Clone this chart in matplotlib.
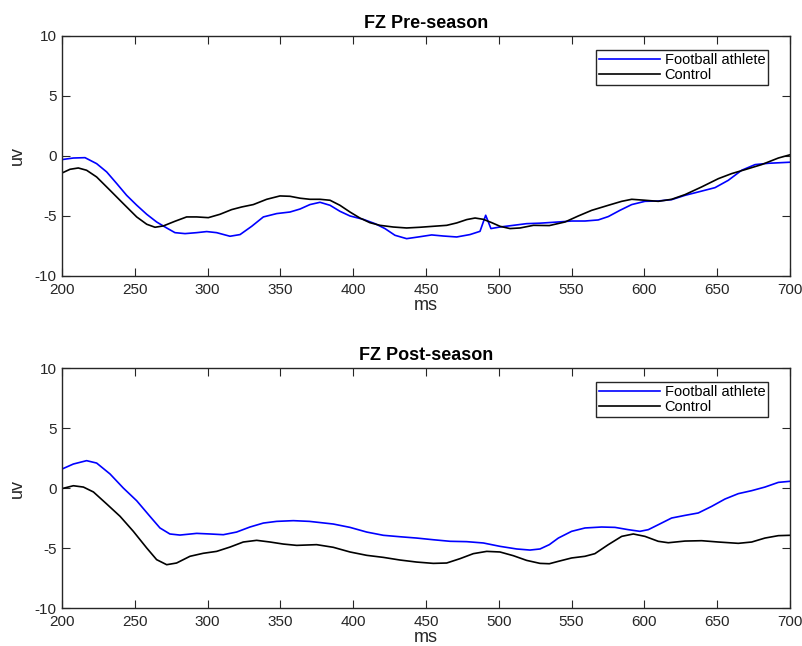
import matplotlib
matplotlib.use('Agg')
import matplotlib.pyplot as plt

plt.rcParams['font.family'] = ['Liberation Sans', 'DejaVu Sans']
plt.rcParams['axes.unicode_minus'] = False

# Grand-average ERP at FZ, pre-season
pre_ms_fb = [200, 207.8, 215.8, 223.8, 230.7, 237.6, 244.4, 251.3, 258.2, 265, 271.9, 277.6, 284.5,
             292.5, 299.4, 306.2, 315.4, 322.3, 330.3, 338.3, 347.5, 356.6, 363.5, 370.3, 377.2,
             384.1, 390.9, 397.8, 406.9, 415, 421.8, 428.7, 436.7, 444.7, 453.9, 461.9, 471.1,
             480.2, 487.1, 491, 494.6, 500.8, 510, 519.1, 528.3, 540.9, 550, 559.2, 568.3, 575.2,
             583.2, 591.3, 600.4, 609.5, 618.7, 627.9, 637, 648.5, 657.6, 666.8, 676, 685.1, 700]
pre_fb = [-0.3, -0.17, -0.14, -0.64, -1.33, -2.3, -3.28, -4.1, -4.86, -5.5, -6.0, -6.39, -6.47,
          -6.39, -6.3, -6.39, -6.69, -6.55, -5.86, -5.08, -4.8, -4.67, -4.42, -4.05, -3.86,
          -4.11, -4.61, -5.0, -5.28, -5.64, -6.05, -6.61, -6.89, -6.75, -6.58, -6.67, -6.75,
          -6.55, -6.28, -4.94, -6.05, -5.92, -5.78, -5.64, -5.6, -5.5, -5.42, -5.42, -5.33, -5.05,
          -4.53, -4.05, -3.78, -3.75, -3.64, -3.28, -3.0, -2.64, -2.03, -1.19, -0.72, -0.61, -0.52]
pre_ms_ctl = [200, 205.5, 211.2, 216.9, 223.8, 233, 242.1, 251.3, 258.2, 263.9, 269.6, 277.6, 285.6,
              292.5, 300.5, 308.5, 316.5, 323.4, 331.4, 340.6, 349.7, 356.6, 363.5, 370.3, 377.2,
              384.1, 390.9, 397.8, 404.6, 411.5, 418.4, 427.5, 436.7, 445.9, 455, 464.2, 471.1,
              478, 483.7, 489.4, 495.2, 500.8, 507.7, 514.6, 523.8, 534.7, 545.5, 554.6, 563.8,
              575.2, 584.4, 591.3, 600.4, 609.5, 618.7, 627.9, 639.3, 650.8, 659.9, 669.1, 680.5,
              692, 700]
pre_ctl = [-1.42, -1.11, -1.0, -1.19, -1.75, -2.86, -3.97, -5.08, -5.69, -5.94, -5.83, -5.44, -5.08,
           -5.08, -5.14, -4.86, -4.47, -4.25, -4.05, -3.61, -3.33, -3.36, -3.52, -3.61, -3.61,
           -3.69, -4.11, -4.67, -5.17, -5.56, -5.78, -5.92, -6.0, -5.94, -5.86, -5.78, -5.58,
           -5.3, -5.17, -5.28, -5.56, -5.86, -6.05, -6.0, -5.78, -5.8, -5.5, -5.0, -4.53,
           -4.11, -3.78, -3.61, -3.69, -3.78, -3.61, -3.22, -2.58, -1.89, -1.47, -1.14, -0.72,
           -0.17, 0.1]

# Grand-average ERP at FZ, post-season
post_ms_fb = [200, 207.8, 216.9, 223.8, 233, 242.1, 251.3, 260.4, 267.3, 274.1, 281, 292.5, 301.6,
              310.8, 319.9, 329.1, 338.3, 347.4, 358.9, 369.9, 386.3, 397.8, 409.3, 420.7, 432.1,
              443.6, 455, 466.5, 478, 489.4, 500.8, 512.3, 521.4, 528.3, 534.7, 540.9, 550, 559.2,
              570.6, 579.8, 588.9, 596.9, 602.7, 609.5, 618.7, 627.9, 637, 646.2, 655.3, 664.5,
              673.7, 682.8, 692, 700]
post_fb = [1.58, 2.0, 2.28, 2.08, 1.17, 0.0, -1.06, -2.36, -3.33, -3.83, -3.92, -3.78, -3.83,
           -3.89, -3.67, -3.25, -2.92, -2.78, -2.72, -2.78, -3.0, -3.28, -3.67, -3.94, -4.06,
           -4.17, -4.31, -4.44, -4.47, -4.58, -4.86, -5.08, -5.17, -5.08, -4.72, -4.17, -3.61, -3.33,
           -3.25, -3.28, -3.47, -3.61, -3.47, -3.06, -2.5, -2.28, -2.08, -1.53, -0.92, -0.47,
           -0.22, 0.08, 0.47, 0.56]
post_ms_ctl = [200, 207.8, 214.7, 221.6, 230.7, 239.9, 249, 258.2, 265, 271.9, 278.7, 287.9, 297,
               306.2, 315.4, 324.5, 333.7, 342.9, 352, 361.2, 374.9, 386.3, 397.8, 409.3, 420.7,
               432.1, 443.6, 455, 464.2, 473.3, 482.5, 491.7, 500.8, 510, 519.1, 528.3, 534.7,
               540.9, 550, 559.2, 566, 575.2, 584.4, 592.4, 600.4, 609.5, 616.4, 627.9, 639.3,
               650.8, 664.5, 673.7, 682.8, 692, 700]
post_ctl = [-0.05, 0.19, 0.08, -0.33, -1.33, -2.36, -3.61, -5.0, -5.97, -6.39, -6.25, -5.69, -5.44,
            -5.28, -4.92, -4.5, -4.36, -4.5, -4.67, -4.78, -4.72, -4.94, -5.33, -5.61, -5.78,
            -6.0, -6.17, -6.28, -6.25, -5.89, -5.47, -5.28, -5.33, -5.64, -6.03, -6.28, -6.31,
            -6.11, -5.83, -5.69, -5.47, -4.72, -4.03, -3.83, -4.03, -4.44, -4.56, -4.42, -4.39,
            -4.5, -4.61, -4.5, -4.17, -3.97, -3.94]

xticks = [200, 250, 300, 350, 400, 450, 500, 550, 600, 650, 700]
yticks = [-10, -5, 0, 5, 10]
axcol = '#262626'

fig = plt.figure(figsize=(8.03, 6.46), dpi=100)
ax1 = fig.add_axes([0.0772, 0.5728, 0.9066, 0.3715])
ax2 = fig.add_axes([0.0772, 0.0588, 0.9066, 0.3715])

panels = [(ax1, 'FZ Pre-season', pre_ms_fb, pre_fb, pre_ms_ctl, pre_ctl),
          (ax2, 'FZ Post-season', post_ms_fb, post_fb, post_ms_ctl, post_ctl)]

for ax, title, xf, yf, xc, yc in panels:
    ax.plot(xf, yf, color='#0000ff', lw=1.2, label='Football athlete')
    ax.plot(xc, yc, color='black', lw=1.2, label='Control')
    ax.set_xlim(200, 700)
    ax.set_ylim(-10, 10)
    ax.set_xticks(xticks)
    ax.set_yticks(yticks)
    ax.tick_params(direction='in', top=True, right=True, length=6, width=0.8,
                   color=axcol, labelcolor=axcol, labelsize=11)
    ax.tick_params(axis='x', pad=5)
    ax.tick_params(axis='y', pad=4)
    for sp in ax.spines.values():
        sp.set_color(axcol)
        sp.set_linewidth(1.0)
    ax.set_title(title, fontsize=13, fontweight='bold', pad=6)
    ax.set_xlabel('ms', fontsize=13, color=axcol, labelpad=0)
    ax.set_ylabel('uv', fontsize=13, color=axcol, labelpad=6)
    leg = ax.legend(loc='upper right', bbox_to_anchor=(0.97, 0.94), fontsize=10.5,
                    handlelength=4.2, handletextpad=0.3, borderpad=0.2, labelspacing=0.05,
                    fancybox=False, framealpha=1, borderaxespad=0)
    leg.get_frame().set_edgecolor(axcol)
    leg.get_frame().set_linewidth(1.0)

fig.savefig('out.png', dpi=100)
